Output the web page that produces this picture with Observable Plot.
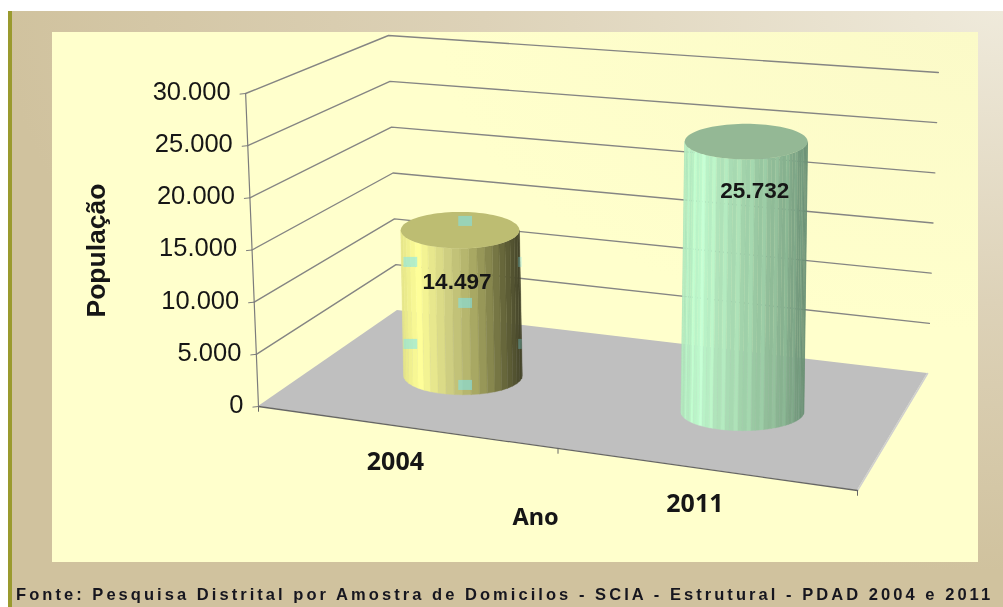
<!DOCTYPE html>
<html lang="pt">
<head>
<meta charset="utf-8">
<script src="https://cdn.jsdelivr.net/npm/d3@7"></script>
<script src="https://cdn.jsdelivr.net/npm/@observablehq/plot@0.6"></script>
<style>
  html, body { margin: 0; padding: 0; background: #fff; width: 1003px; height: 607px; overflow: hidden; }
  #frame { position: absolute; left: 8px; top: 11px; width: 995px; height: 596px; box-sizing: border-box;
    border-left: 4px solid #9a9a2e;
    background: radial-gradient(ellipse 1000px 560px at 100% 0, #EFEADB 0%, #DDD2B8 52%, #D0C29E 100%) #D0C29E; }
  #panel { position: absolute; left: 52px; top: 32px; width: 926px; height: 530px;
    background: radial-gradient(ellipse 900px 500px at 100% 0, #FBFAC8 0%, #FFFFCC 60%); }
  #chart { position: absolute; left: 0; top: 0; filter: blur(0.45px); }
  #chart svg { background: transparent; overflow: visible; }
  #fonte { position: absolute; left: 16px; top: 585px; white-space: nowrap;
    font: bold 16.5px "Liberation Sans", Arial, sans-serif; letter-spacing: 3.05px; color: #16161f; filter: blur(0.35px); }
</style>
</head>
<body>
<div id="frame"></div>
<div id="panel"></div>
<div id="chart"></div>
<div id="fonte">Fonte: Pesquisa Distrital por Amostra de Domicilos - SCIA - Estrutural - PDAD 2004 e 2011</div>
<script>
// Data
const years = ["2004", "2011"];
const population = [14497, 25732];
const valueTicks = [0, 5000, 10000, 15000, 20000, 25000, 30000];
const valueLabels = ["0", "5.000", "10.000", "15.000", "20.000", "25.000", "30.000"];

// Box corners of the 3D scene, in axis units (category position, population)
const floorCorners = {fl: [0, 0], fr: [2, -8051], bl: [0.464, 9201], br: [2.234, 3163]};
const roofCorners = {fl: [-0.043, 30000], fr: [2.03, 25016], bl: [0.434, 35560], br: [2.27, 32013]};
const yMax = 30000;

const lerp = (a, b, t) => a + (b - a) * t;
function project(u, v, value) {
  const s = u / 2, h = value / yMax;
  return [0, 1].map(k => {
    const f = lerp(lerp(floorCorners.fl[k], floorCorners.fr[k], s), lerp(floorCorners.bl[k], floorCorners.br[k], s), v);
    const r = lerp(lerp(roofCorners.fl[k], roofCorners.fr[k], s), lerp(roofCorners.bl[k], roofCorners.br[k], s), v);
    return lerp(f, r, h);
  });
}

// Gridlines on the two walls
const gridRows = valueTicks.slice(1).flatMap(t =>
  [[0, 0], [0, 1], [2, 1]].map(([u, v]) => { const [x, y] = project(u, v, t); return {t, x, y}; }));

// Floor
const floorBand = [0, 2].map(u => {
  const a = project(u, 0, 0), b = project(u, 1, 0);
  return {x1: a[0], y1: a[1], x2: b[0], y2: b[1]};
});

// Cylinders
const radiusX = [0.198, 0.205];
const radiusY = [1750, 1700];
const centerU = [0.48, 1.47];
const stripCount = [22, 44];
const topColor = ["#BDBD72", "#94B895"];
const shades = [
  ["#E4E488", "#FFFF99", "#E2E28A", "#C8C87E", "#B0B068", "#8E8E52", "#66663A", "#44442A"],
  ["#AEE4BA", "#BEF8CC", "#AFE3BA", "#A6D8B0", "#9BCBA4", "#90BC98", "#83AC8B", "#6B8F75"]
];
const bars = years.map((year, i) => {
  const b = project(centerU[i], 0.5, 0), t = project(centerU[i], 0.5, population[i]);
  return {year, i, value: population[i], b, t};
});
function stripsOf(bar) {
  const {i, b, t} = bar, n = stripCount[i], ramp = d3.piecewise(d3.interpolateRgb, shades[i]), rows = [];
  for (let k = 0; k < n; ++k) {
    const a0 = Math.PI * (1 - k / n), a1 = Math.PI * (1 - (k + 1) / n);
    const pos = (1 - Math.cos(Math.PI * (k + 0.5) / n)) / 2;
    let color = d3.color(ramp(pos));
    if (i === 1 && k % 3 === 2) color = color.brighter(0.15);
    for (const a of [a0, a1]) {
      rows.push({
        strip: `${bar.year}-${k}`, color: color.formatHex(),
        xTop: t[0] + Math.cos(a) * radiusX[i],
        xBottom: b[0] + Math.cos(a) * radiusX[i],
        yTop: t[1] - Math.sin(a) * radiusY[i],
        yBottom: b[1] - Math.sin(a) * radiusY[i] * 1.05
      });
    }
  }
  return rows;
}
const strips = bars.flatMap(stripsOf);
const tops = bars.flatMap(bar => d3.range(0, 49).map(k => {
  const a = Math.PI * (1 - k / 48), i = bar.i;
  return {
    year: bar.year, color: topColor[i],
    x: bar.t[0] + Math.cos(a) * radiusX[i],
    y1: bar.t[1] + Math.sin(a) * radiusY[i],
    y2: bar.t[1] - Math.sin(a) * radiusY[i]
  };
}));

// Selection handles on the first bar
const handleCols = [-0.183, 0, 0.183];
const handleSteps = [[0, -2], [1, -1], [-1, -1], [0, 0], [1, 1], [-1, 1], [0, 2]];
const handleMid = lerp(bars[0].b[1], bars[0].t[1], 0.5);
const handleCenter = lerp(bars[0].b[0], bars[0].t[0], 0.5) + 0.012;
const handleW = 0.023, handleH = 480;
const handles = handleSteps.map(([c, r]) => ({
  x1: handleCenter + handleCols[c + 1] - (c === 1 ? 0.006 : handleW),
  x2: handleCenter + handleCols[c + 1] + (c === 1 ? 0.006 : handleW),
  y: handleMid + r * 3930,
  opacity: c === 1 ? 0.3 : 0.55
}));

const valueLabelShift = [[-0.012, -4900], [0.027, -4700]];
const ink = "#161616";

const plot = Plot.plot({
  width: 1003, height: 607, marginTop: 0, marginRight: 0, marginBottom: 0, marginLeft: 0,
  x: {domain: [0, 2], range: [258, 857], axis: null},
  y: {domain: [0, yMax], range: [406, 93], axis: null},
  color: {type: "identity"},
  style: {background: "transparent"},
  marks: [
    Plot.line(gridRows, {x: "x", y: "y", z: "t", stroke: "#858583", strokeWidth: 1.4}),
    Plot.area(floorBand, {x1: "x1", y1: "y1", x2: "x2", y2: "y2", fill: "#BFBFBF", curve: "linear"}),
    Plot.line([[2, 0], [2, 1]].map(([u, v]) => project(u, v, 0)), {stroke: "#CFCFCF", strokeWidth: 1.5}),
    Plot.line([0, 2].map(u => project(u, 0, 0)), {stroke: "#666", strokeWidth: 1.3}),
    Plot.line([0, yMax].map(t => project(0, 0, t)), {stroke: "#7c7c7c", strokeWidth: 1.2}),
    Plot.link(valueTicks, {
      x1: t => project(0, 0, t)[0] - 0.02, y1: t => project(0, 0, t)[1] - 60,
      x2: t => project(0, 0, t)[0], y2: t => project(0, 0, t)[1], stroke: "#7c7c7c"
    }),
    Plot.link([0, 1, 2], {
      x1: u => project(u, 0, 0)[0], y1: u => project(u, 0, 0)[1],
      x2: u => project(u, 0, 0)[0], y2: u => project(u, 0, 0)[1] - 500, stroke: "#666"
    }),
    Plot.area(strips, {x1: "xBottom", x2: "xTop", y1: "yBottom", y2: "yTop", z: "strip", fill: "color", stroke: "color", strokeWidth: 0.4, curve: "linear"}),
    Plot.area(tops, {x1: "x", y1: "y1", y2: "y2", z: "year", fill: "color", curve: "linear"}),
    Plot.rect(handles, {
      x1: "x1", x2: "x2", y1: d => d.y - handleH, y2: d => d.y + handleH,
      fill: "#7CE6F0", fillOpacity: "opacity"
    }),
    Plot.text(valueTicks, {
      x: t => project(0, 0, t)[0] - 0.05, y: t => project(0, 0, t)[1] + 170,
      text: (t, i) => valueLabels[i], textAnchor: "end", fontSize: 25.5, fill: ink,
      fontFamily: "Liberation Sans"
    }),
    Plot.text(bars, {
      x: d => d.t[0] + valueLabelShift[d.i][0], y: d => d.t[1] + valueLabelShift[d.i][1],
      text: d => d.value.toLocaleString("pt-BR"), fontSize: 22.5, fontWeight: "bold", fill: ink,
      fontFamily: "Liberation Sans"
    }),
    Plot.text(years, {
      x: (d, i) => project(i + 0.5, 0, 0)[0] - 0.043, y: (d, i) => project(i + 0.5, 0, 0)[1] - 3300,
      text: d => d, fontSize: 25, fontWeight: "bold", fill: ink, fontFamily: "Noto Sans"
    }),
    Plot.text(["Ano"], {
      x: () => project(1, 0, 0)[0] - 0.075, y: () => project(1, 0, 0)[1] - 6600,
      text: d => d, fontSize: 23.5, fontWeight: "bold", fill: ink, fontFamily: "Noto Sans"
    }),
    Plot.text(["População"], {
      x: () => -0.541, y: () => 14950, rotate: -90,
      text: d => d, fontSize: 26.5, fontWeight: "bold", fill: ink, fontFamily: "Liberation Sans"
    })
  ]
});
document.getElementById("chart").append(plot);
</script>
</body>
</html>
